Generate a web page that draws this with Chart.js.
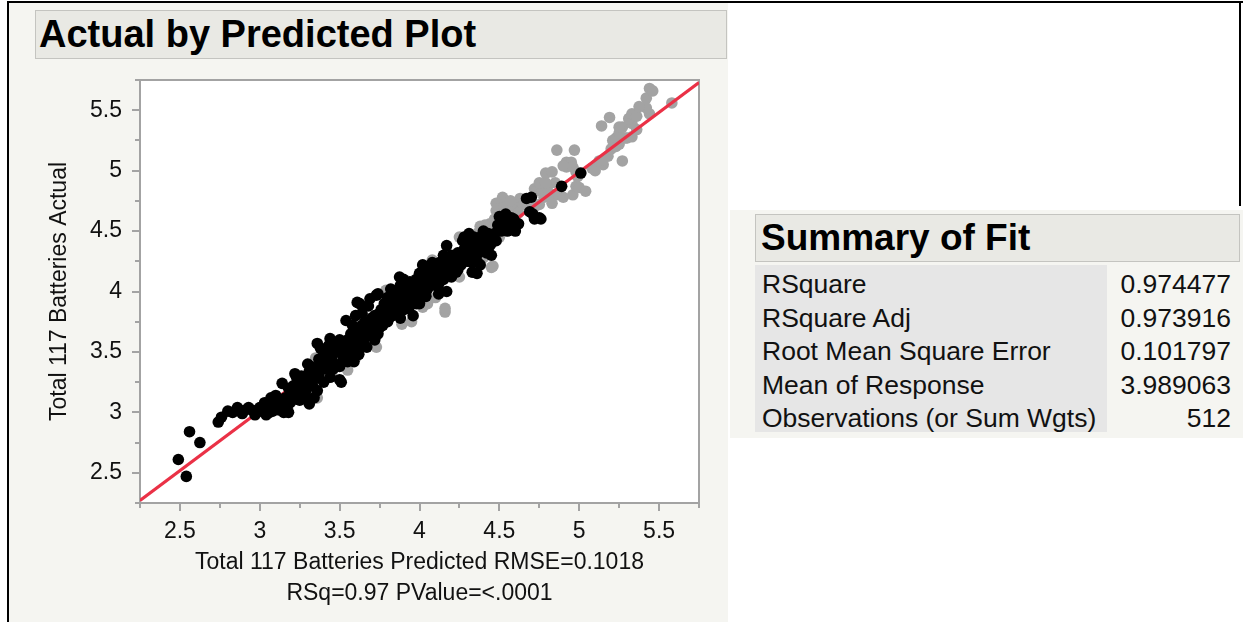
<!DOCTYPE html>
<html>
<head>
<meta charset="utf-8">
<script src="https://cdn.jsdelivr.net/npm/chart.js@4.4.0/dist/chart.umd.min.js"></script>
<style>
  body { margin: 0; width: 1243px; height: 622px; background: #fff; position: relative; overflow: hidden;
         font-family: "Liberation Sans", Arial, sans-serif; color: #000; }
  .abs { position: absolute; }
  .line { background: #000; }
  .panel { background: #f5f5f1; }
  .titlebox { background: #e9e9e4; border: 1px solid #c4c4c0; font-weight: bold; box-sizing: border-box; white-space: nowrap; }
  #plot { position: absolute; left: 0; top: 0; }
  .row { position: absolute; left: 762px; width: 469px; height: 33.5px; line-height: 33.5px; font-size: 26.5px; color: #111; }
  .row span { position: absolute; right: 0; }
</style>
</head>
<body>
<div class="abs line" style="left:7px;top:1px;width:1236px;height:2px"></div>
<div class="abs line" style="left:7px;top:1px;width:2px;height:621px"></div>
<div class="abs line" style="left:1239px;top:1px;width:2px;height:205px"></div>
<div class="abs panel" style="left:9px;top:3px;width:719px;height:619px"></div>
<div class="abs titlebox" style="left:35px;top:10px;width:692px;height:49px;font-size:38px;line-height:47px;padding-left:3px">Actual by Predicted Plot</div>

<div class="abs panel" style="left:730px;top:210px;width:513px;height:228px"></div>
<div class="abs titlebox" style="left:755px;top:214px;width:485px;height:48px;font-size:37px;line-height:46px;padding-left:5px">Summary of Fit</div>
<div class="abs" style="left:755px;top:265px;width:352px;height:167px;background:#e6e6e6"></div>
<div id="fit"></div>

<canvas id="plot" width="730" height="622"></canvas>

<script>
// points: [predicted, actual]
var blackPoints = [
  [2.56,2.84],[2.625,2.75],[2.49,2.61],[2.54,2.47],[2.74,2.92],[2.76,2.96],[2.80,3.01],[2.86,3.04],[2.83,3.00],
  [2.89,2.99],[2.93,3.04],[2.97,2.98],[2.95,3.02],[3.00,3.01],[3.02,3.04],[3.04,2.98],[3.06,3.00],[3.09,3.04],
  [3.08,3.01],[3.12,3.02],[3.14,3.06],[3.17,3.04],[3.10,3.14],[3.14,3.24],[3.13,3.10],[3.16,3.12],[3.19,3.08],
  [3.20,3.15],[3.22,3.11],[3.05,3.05],[3.11,3.07],[3.15,3.00],[3.18,3.00],[3.00,3.04],[2.91,3.02],[3.03,3.08],[3.07,3.12],
  [3.23,3.29],[3.25,3.10],[3.31,3.07],[3.29,3.18],[3.36,3.18],[3.25,3.20],[3.27,3.25],[3.22,3.32],[3.30,3.30],
  [3.33,3.22],[3.34,3.12],[3.28,3.14],[3.35,3.28],[3.38,3.35],[3.32,3.38],[3.39,3.42],[3.44,3.29],[3.51,3.25],
  [3.40,3.25],[3.37,3.31],[3.42,3.36],[3.30,3.40],
  [3.18,3.20],[3.21,3.22],[3.24,3.16],[3.26,3.30],[3.28,3.22],[3.31,3.34],[3.32,3.26],[3.34,3.36],[3.36,3.30],
  [3.37,3.44],[3.39,3.38],[3.41,3.46],[3.43,3.40],[3.44,3.52],[3.46,3.36],
  [3.36,3.57],[3.44,3.61],[3.50,3.60],[3.56,3.54],[3.59,3.42],[3.40,3.50],[3.45,3.48],[3.48,3.55],[3.52,3.47],
  [3.55,3.60],[3.42,3.44],[3.47,3.40],[3.50,3.38],[3.53,3.52],[3.58,3.50],[3.60,3.55],[3.57,3.65],[3.50,3.27],
  [3.46,3.56],[3.38,3.53],[3.43,3.55],[3.55,3.42],[3.62,3.48],[3.62,3.60],
  [3.45,3.45],[3.48,3.50],[3.50,3.55],[3.52,3.42],[3.54,3.58],[3.56,3.48],[3.58,3.56],[3.60,3.62],[3.63,3.55],
  [3.54,3.76],[3.60,3.70],[3.625,3.90],[3.64,3.82],[3.67,3.54],[3.66,3.75],[3.70,3.72],[3.72,3.80],[3.73,3.97],
  [3.74,3.98],[3.68,3.88],[3.58,3.72],[3.62,3.65],[3.70,3.65],[3.75,3.70],[3.76,3.85],[3.78,3.90],[3.80,3.75],
  [3.65,3.68],[3.60,3.80],[3.72,3.60],[3.77,3.78],[3.79,3.82],[3.69,3.94],[3.82,3.87],[3.61,3.91],
  [3.64,3.72],[3.66,3.62],[3.68,3.70],[3.70,3.78],[3.71,3.68],[3.73,3.75],[3.74,3.65],[3.75,3.82],[3.77,3.72],
  [3.78,3.80],[3.80,3.92],[3.81,3.78],[3.83,3.94],[3.84,3.85],[3.86,3.82],[3.87,3.92],[3.88,4.05],[3.89,3.90],
  [3.80,3.95],[3.83,3.80],[3.85,3.90],[3.87,4.00],[3.875,4.12],[3.90,4.10],[3.92,3.95],[3.94,3.88],[3.95,4.02],
  [3.97,3.92],[4.00,4.00],[4.00,3.90],[4.02,4.05],[3.85,3.98],[3.90,3.85],[3.82,4.02],[3.98,4.10],[4.04,3.96],
  [3.88,3.78],[3.96,3.80],[4.05,4.08],[3.93,4.04],[3.80,3.85],
  [3.91,4.00],[3.92,3.86],[3.93,3.97],[3.94,4.08],[3.95,3.92],[3.96,4.05],[3.97,3.98],[3.98,3.90],[3.99,4.04],
  [4.00,4.15],[4.03,4.20],[4.06,4.12],[4.10,4.22],[4.125,4.24],[4.10,4.05],[4.15,4.10],[4.17,4.00],[4.13,4.15],
  [4.17,4.38],[4.20,4.30],[4.22,4.20],[4.25,4.28],[4.08,4.24],[4.15,4.30],[4.20,4.12],[4.28,4.35],[4.30,4.25],
  [4.12,3.98],[4.05,4.02],[4.18,4.22],[4.24,4.18],[4.02,4.22],[4.27,4.42],
  [4.01,4.10],[4.01,3.96],[4.03,4.00],[4.04,4.12],[4.06,4.05],[4.07,4.18],[4.09,4.10],[4.11,4.16],[4.12,4.06],
  [4.14,4.20],[4.16,4.14],[4.18,4.28],[4.19,4.18],[4.21,4.25],[4.23,4.16],[4.24,4.32],[4.26,4.22],[4.29,4.30],
  [4.31,4.48],[4.28,4.45],[4.33,4.16],[4.36,4.15],[4.32,4.30],[4.35,4.38],[4.38,4.45],[4.42,4.45],[4.42,4.32],
  [4.40,4.38],[4.36,4.25],[4.45,4.40],[4.47,4.48],[4.50,4.52],[4.45,4.30],[4.30,4.40],[4.38,4.22],[4.40,4.50],[4.34,4.45],
  [4.31,4.36],[4.33,4.24],[4.34,4.40],[4.37,4.32],[4.39,4.42],[4.41,4.36],[4.43,4.48],[4.44,4.38],[4.46,4.46],
  [4.48,4.42],[4.49,4.55],[4.51,4.50],[4.53,4.60],[4.57,4.56],[4.59,4.60],
  [4.54,4.64],[4.58,4.53],[4.52,4.55],[4.575,4.61],[4.56,4.60],[4.50,4.62],[4.60,4.50],[4.55,4.50],[4.67,4.77],
  [4.71,4.64],[4.72,4.60],[4.75,4.61],[4.76,4.60],[4.69,4.66],[4.62,4.56],[4.70,4.78],
  [4.89,4.87],[5.01,4.98]
];

var grayPoints = [
  [3.73,3.54],[3.89,3.73],[4.02,3.87],[4.16,3.83],[4.16,3.86],[3.95,3.75],[3.67,3.60],[3.45,3.33],[3.55,3.35],
  [3.36,3.12],[3.48,3.41],[3.42,3.51],[3.35,3.45],[3.60,3.45],[3.86,3.98],[4.05,3.90],[3.78,3.96],[3.79,4.01],
  [3.82,3.92],[3.64,3.57],[4.10,3.95],[4.25,4.12],[4.46,4.21],[4.45,4.20],[4.20,4.20],[4.15,4.25],[4.35,4.20],
  [4.08,4.26],[4.25,4.45],[4.375,4.50],[4.44,4.56],[4.38,4.54],[4.30,4.35],[4.40,4.28],[4.50,4.45],[4.41,4.55],
  [3.90,3.95],[3.98,4.05],[4.12,4.12],
  [4.52,4.78],[4.63,4.77],[4.48,4.67],[4.48,4.73],[4.49,4.68],[4.47,4.60],[4.53,4.70],[4.60,4.70],[4.65,4.72],
  [4.55,4.72],[4.58,4.68],[4.57,4.75],[4.62,4.65],[4.68,4.72],[4.72,4.70],[4.75,4.72],[4.50,4.60],
  [4.70,4.75],[4.72,4.85],[4.73,4.83],[4.77,4.83],[4.83,4.80],[4.78,4.78],[4.83,4.73],[4.87,4.80],[4.85,4.90],
  [4.80,4.86],[4.75,4.90],[4.79,4.90],[4.79,4.98],[4.83,4.99],[4.90,4.78],[4.96,4.80],[4.98,4.87],[5.00,4.86],
  [5.04,4.83],[4.99,4.95],[4.92,5.03],[4.86,5.17],[4.97,5.17],[4.92,5.07],[4.95,5.07],[4.90,5.04],[4.96,5.03],
  [4.98,4.99],[5.10,5.04],[5.15,5.05],[5.08,5.02],[5.10,5.00],[5.125,5.08],[5.18,5.12],[5.27,5.08],[5.20,5.18],
  [5.23,5.20],[5.25,5.22],[5.21,5.25],[5.23,5.27],[5.30,5.27],[5.29,5.27],[5.33,5.28],[5.36,5.34],[5.25,5.31],
  [5.27,5.36],[5.25,5.36],[5.14,5.37],[5.19,5.44],[5.33,5.39],[5.31,5.43],[5.33,5.47],[5.36,5.45],[5.44,5.47],
  [5.42,5.52],[5.375,5.53],[5.42,5.60],[5.44,5.68],[5.46,5.66],[5.58,5.56]
];

var fitLine = [[2.25, 2.27], [5.75, 5.73]];

var xTitle = ['Total 117 Batteries Predicted RMSE=0.1018', 'RSq=0.97 PValue=<.0001'];
var yTitle = 'Total 117 Batteries Actual';

var fitLabels = ['RSquare', 'RSquare Adj', 'Root Mean Square Error', 'Mean of Response', 'Observations (or Sum Wgts)'];
var fitValues = ['0.974477', '0.973916', '0.101797', '3.989063', '512'];

// summary table
var fitBox = document.getElementById('fit');
fitLabels.forEach(function (lab, i) {
  var d = document.createElement('div');
  d.className = 'row';
  d.style.top = (268.4 + i * 33.5) + 'px';
  d.innerHTML = lab + '<span>' + fitValues[i] + '</span>';
  fitBox.appendChild(d);
});

var AXIS = '#a3a3a3';
var FONT = '"Liberation Sans", Arial, sans-serif';
function isMajor(v) { return Math.abs(v * 2 - Math.round(v * 2)) < 1e-6; }
function toXY(p) { return { x: p[0], y: p[1] }; }

var frame = {
  id: 'frame',
  beforeDraw: function (chart) {
    var a = chart.chartArea, c = chart.ctx;
    c.save();
    c.fillStyle = '#fff';
    c.fillRect(a.left, a.top, a.right - a.left, a.bottom - a.top);
    c.strokeStyle = AXIS;
    c.lineWidth = 2;
    c.beginPath();
    c.moveTo(a.left, a.top); c.lineTo(a.right, a.top); c.lineTo(a.right, a.bottom);
    c.stroke();
    // minor ticks
    var xs = chart.scales.x, ys = chart.scales.y;
    c.beginPath();
    xs.ticks.forEach(function (t) {
      if (isMajor(t.value)) return;
      var px = Math.round(xs.getPixelForValue(t.value));
      c.moveTo(px, a.bottom); c.lineTo(px, a.bottom + 5);
    });
    ys.ticks.forEach(function (t) {
      if (isMajor(t.value)) return;
      var py = Math.round(ys.getPixelForValue(t.value));
      c.moveTo(a.left - 5, py); c.lineTo(a.left, py);
    });
    c.stroke();
    c.restore();
  }
};

new Chart(document.getElementById('plot'), {
  type: 'scatter',
  data: {
    datasets: [
      { label: 'Actual', data: blackPoints.map(toXY), backgroundColor: '#000', borderWidth: 0, pointRadius: 5.8 },
      { type: 'line', label: 'Fit', data: fitLine.map(toXY), borderColor: '#ea3146', borderWidth: 3.2,
        pointRadius: 0, fill: false, tension: 0 },
      { label: 'Excluded', data: grayPoints.map(toXY), backgroundColor: '#a3a3a3', borderWidth: 0, pointRadius: 5.8 }
    ]
  },
  options: {
    responsive: false,
    animation: false,
    devicePixelRatio: 1,
    events: [],
    layout: { padding: { left: 0, top: 80, right: 31, bottom: 0 } },
    plugins: { legend: { display: false }, tooltip: { enabled: false } },
    scales: {
      x: {
        type: 'linear', position: 'bottom', min: 2.25, max: 5.75,
        afterFit: function (s) { s.height = 119; },
        ticks: {
          stepSize: 0.25, autoSkip: false, maxRotation: 0, padding: 7, color: '#111',
          font: { family: FONT, size: 23 },
          callback: function (v) { return isMajor(v) ? String(v) : ''; }
        },
        grid: {
          drawOnChartArea: false, tickLength: 8, lineWidth: 2, tickWidth: 2,
          tickColor: function (c) { return c.tick && isMajor(c.tick.value) ? AXIS : 'rgba(0,0,0,0)'; }
        },
        border: { display: true, color: AXIS, width: 2 },
        title: {
          display: true, text: xTitle, color: '#111',
          font: { family: FONT, size: 23, lineHeight: 31 / 23 },
          padding: { top: 0, bottom: 12.5 }
        }
      },
      y: {
        type: 'linear', position: 'left', min: 2.25, max: 5.75,
        afterFit: function (s) { s.width = 140; },
        ticks: {
          stepSize: 0.25, autoSkip: false, padding: 10, color: '#111',
          font: { family: FONT, size: 23 },
          callback: function (v) { return isMajor(v) ? String(v) : ''; }
        },
        grid: {
          drawOnChartArea: false, tickLength: 8, lineWidth: 2, tickWidth: 2,
          tickColor: function (c) { return c.tick && isMajor(c.tick.value) ? AXIS : 'rgba(0,0,0,0)'; }
        },
        border: { display: true, color: AXIS, width: 2 },
        title: {
          display: true, text: yTitle, color: '#111',
          font: { family: FONT, size: 23, lineHeight: 1.2 },
          padding: { top: 46, bottom: 0 }
        }
      }
    }
  },
  plugins: [frame]
});
</script>
</body>
</html>
